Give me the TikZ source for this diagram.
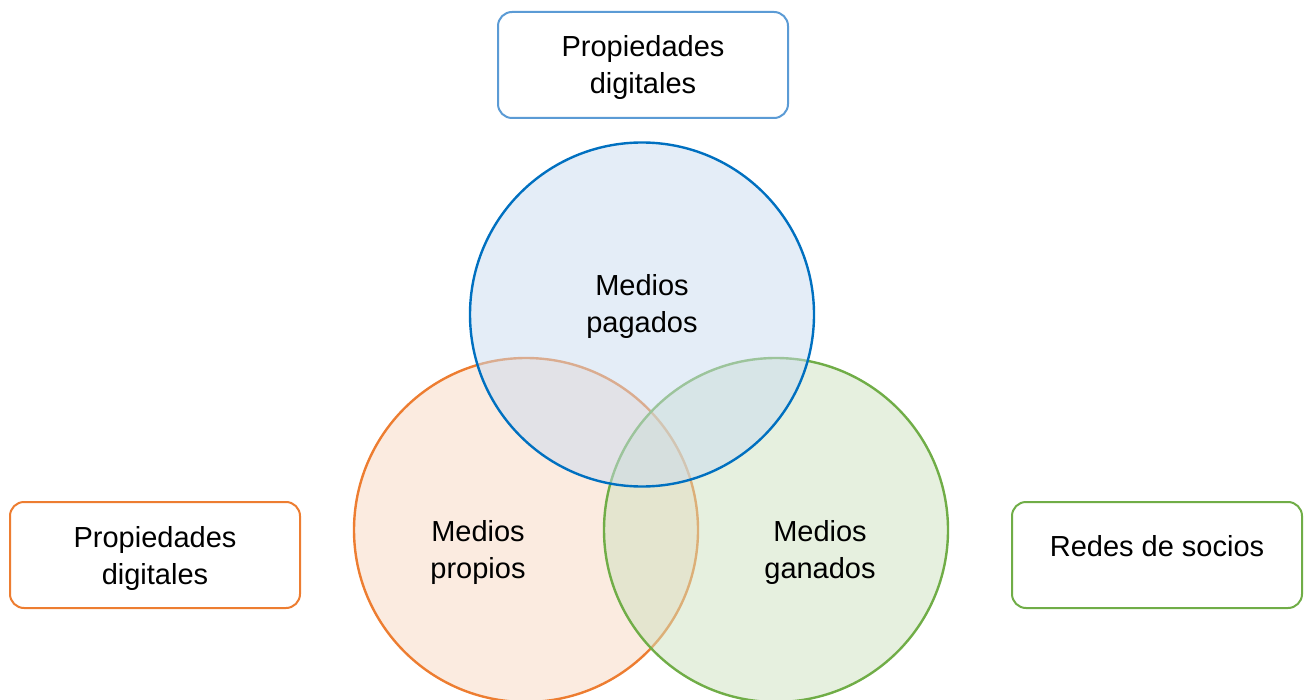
\documentclass[tikz,border=0pt]{standalone}
\usepackage{fontspec}
\setmainfont{Liberation Sans}
\definecolor{bline}{HTML}{0070C0}
\definecolor{oline}{HTML}{ED7D31}
\definecolor{gline}{HTML}{70AD47}
\definecolor{bbox}{HTML}{5B9BD5}
\definecolor{bfill}{HTML}{C9DBEF}
\definecolor{ofill}{HTML}{F7D7C1}
\definecolor{gfill}{HTML}{CDE1BF}
\begin{document}
\begin{tikzpicture}[x=1pt,y=-1pt,
  lbl/.style={font=\fontsize{29}{37}\selectfont, align=center, text=black},
  tagbox/.style={draw, line width=2pt, rounded corners=14pt, minimum width=290pt, minimum height=106pt, inner sep=0pt, fill=white},
  venn/.style={circle, minimum size=344pt, inner sep=0pt, line width=2.4pt, fill opacity=0.5, draw opacity=1}]
  \useasboundingbox (0,0) rectangle (1305,700);
  % circles: orange, green, then blue on top
  \node[venn, draw=oline, fill=ofill] (own) at (526,530) {};
  \node[venn, draw=gline, fill=gfill] (earned) at (776,530) {};
  \node[venn, draw=bline, fill=bfill] (paid) at (642,314.5) {};
  % circle labels
  \node[lbl] (paidtxt) at (642,307) {Medios\\pagados};
  \node[lbl] (owntxt) at (478,552) {Medios\\propios};
  \node[lbl] (earnedtxt) at (820,552) {Medios\\ganados};
  % side boxes
  \node[tagbox, draw=bbox] (top) at (643,65) {};
  \node[lbl] (toptxt) at (643,68) {Propiedades\\digitales};
  \node[tagbox, draw=oline] (left) at (155,555) {};
  \node[lbl] (lefttxt) at (155,558) {Propiedades\\digitales};
  \node[tagbox, draw=gline] (right) at (1157,555) {};
  \node[lbl] (righttxt) at (1157,546) {Redes de socios};
\end{tikzpicture}
\end{document}
